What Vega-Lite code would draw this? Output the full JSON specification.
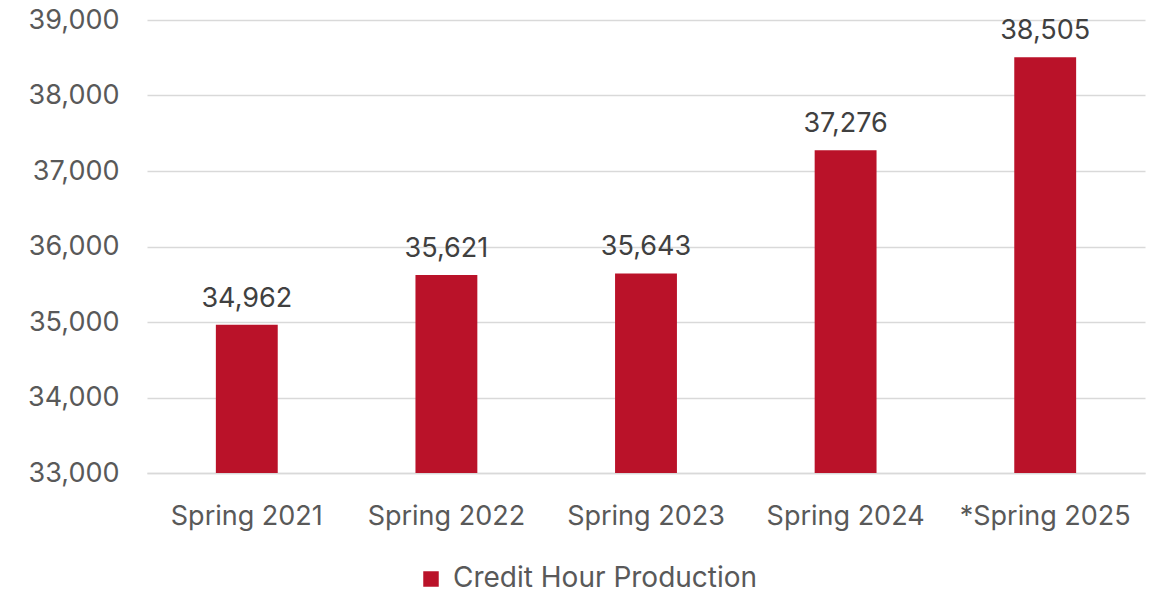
{
  "$schema": "https://vega.github.io/schema/vega-lite/v6.json",
  "autosize": {"type": "none"},
  "width": 998,
  "height": 453,
  "padding": {"left": 147, "top": 20, "right": 13, "bottom": 120},
  "background": "white",
  "config": {
    "view": {"stroke": null},
    "font": "Inter",
    "axis": {"labelFont": "Inter", "labelColor": "#595959"},
    "legend": {"labelFont": "Inter"}
  },
  "data": {
    "values": [
      {"term": "Spring 2021", "hours": 34962, "series": "Credit Hour Production"},
      {"term": "Spring 2022", "hours": 35621, "series": "Credit Hour Production"},
      {"term": "Spring 2023", "hours": 35643, "series": "Credit Hour Production"},
      {"term": "Spring 2024", "hours": 37276, "series": "Credit Hour Production"},
      {"term": "*Spring 2025", "hours": 38505, "series": "Credit Hour Production"}
    ]
  },
  "encoding": {
    "x": {
      "field": "term",
      "type": "nominal",
      "sort": null,
      "scale": {"paddingInner": 0.69, "paddingOuter": 0.345},
      "axis": {
        "title": null,
        "labelAngle": 0,
        "labelFontSize": 27,
        "labelPadding": 30,
        "labelLimit": 300,
        "ticks": false,
        "domain": true,
        "domainColor": "#D9D9D9",
        "domainWidth": 1.5
      }
    },
    "y": {
      "field": "hours",
      "type": "quantitative",
      "scale": {"domain": [33000, 39000], "zero": false, "clamp": true},
      "axis": {
        "title": null,
        "values": [33000, 34000, 35000, 36000, 37000, 38000, 39000],
        "format": ",.0f",
        "labelFontSize": 27,
        "labelPadding": 28,
        "ticks": false,
        "domain": false,
        "grid": true,
        "gridColor": "#D9D9D9",
        "gridWidth": 1.5
      }
    }
  },
  "layer": [
    {
      "mark": {"type": "bar"},
      "encoding": {
        "color": {
          "field": "series",
          "type": "nominal",
          "scale": {"range": ["#BA1229"]},
          "legend": {
            "title": null,
            "orient": "none",
            "legendX": 270,
            "legendY": 545,
            "symbolType": "square",
            "symbolSize": 240,
            "symbolStrokeWidth": 0,
            "labelFontSize": 28,
            "labelLimit": 500,
            "labelColor": "#595959",
            "labelOffset": 8
          }
        }
      }
    },
    {
      "mark": {"type": "text", "baseline": "bottom", "dy": -12, "fontSize": 27, "color": "#404040", "font": "Inter"},
      "encoding": {
        "text": {"field": "hours", "type": "quantitative", "format": ",.0f"}
      }
    }
  ]
}
